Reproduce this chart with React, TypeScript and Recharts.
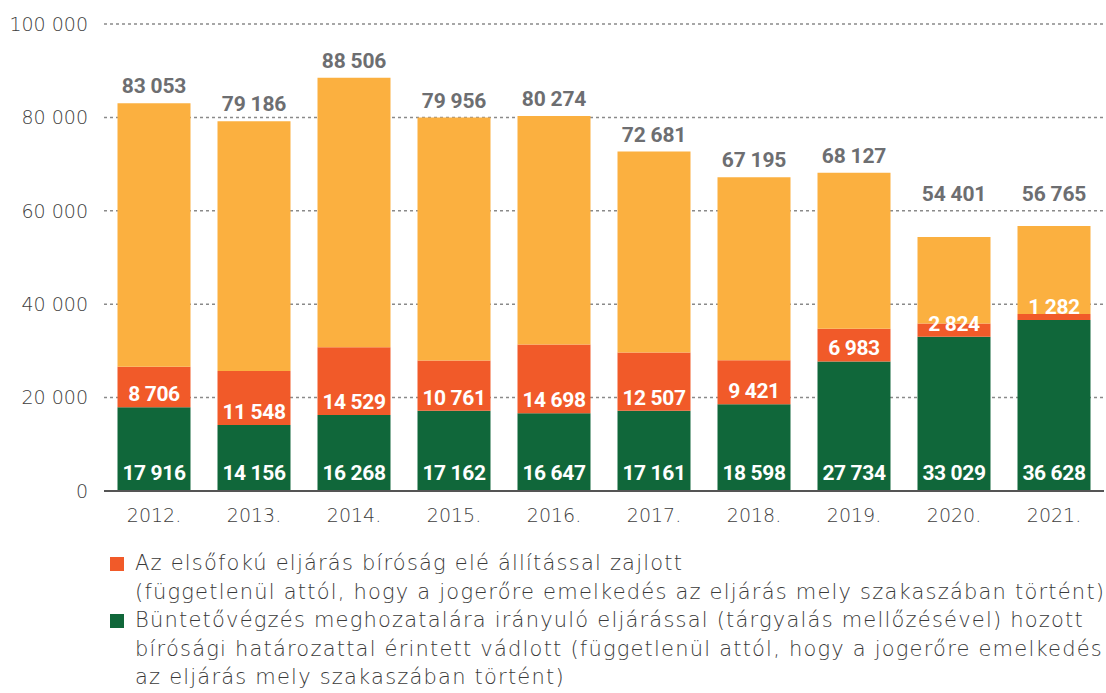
import { Bar, BarChart, CartesianGrid, LabelList, XAxis, YAxis } from 'recharts'

const years = ['2012.', '2013.', '2014.', '2015.', '2016.', '2017.', '2018.', '2019.', '2020.', '2021.']
const simplified = [17916, 14156, 16268, 17162, 16647, 17161, 18598, 27734, 33029, 36628]
const courtFirst = [8706, 11548, 14529, 10761, 14698, 12507, 9421, 6983, 2824, 1282]
const totals = [83053, 79186, 88506, 79956, 80274, 72681, 67195, 68127, 54401, 56765]
const yTicks = [0, 20000, 40000, 60000, 80000, 100000]

const GREEN = '#10673a'
const RED = '#f15a29'
const YELLOW = '#fbb040'
const GRAY_TEXT = '#6d6e71'
const NUM_FONT = 'Roboto, sans-serif'
const TEXT_FONT = '"DejaVu Sans", sans-serif'

const PLOT_TOP = 24
const PLOT_BOTTOM = 491

const chartData = years.map((year, i) => ({
  year,
  green: simplified[i],
  red: courtFirst[i],
  rest: totals[i] - simplified[i] - courtFirst[i],
  total: totals[i],
}))

function fmt(v: number) {
  return String(v).replace(/\B(?=(\d{3})+(?!\d))/g, ' ')
}

// label near the bottom of a segment, white bold
function innerLabel(offset: number) {
  return (props: any) => {
    const { x, y, width, height, value } = props
    return (
      <text
        x={x + width / 2}
        y={y + height - offset}
        textAnchor="middle"
        dominantBaseline="central"
        fill="#fff"
        fontFamily={NUM_FONT}
        fontWeight={700}
        fontSize={21}
        letterSpacing={-0.4}
      >
        {fmt(value)}
      </text>
    )
  }
}

// total above the bar; lifted over a gridline when it would sit on it
function totalLabel(props: any) {
  const { x, y, width, index } = props
  let ly = y - 17
  for (const t of yTicks) {
    const gy = PLOT_BOTTOM - ((PLOT_BOTTOM - PLOT_TOP) * t) / 100000
    if (Math.abs(ly - gy) < 12) ly = gy - 17
  }
  return (
    <text
      x={x + width / 2}
      y={ly}
      textAnchor="middle"
      dominantBaseline="central"
      fill={GRAY_TEXT}
      fontFamily={NUM_FONT}
      fontWeight={700}
      fontSize={21}
      letterSpacing={-0.2}
    >
      {fmt(totals[index])}
    </text>
  )
}

const legendRows = [
  { color: RED, lines: ['Az elsőfokú eljárás bíróság elé állítással zajlott', '(függetlenül attól, hogy a jogerőre emelkedés az eljárás mely szakaszában történt)'] },
  {
    color: GREEN,
    lines: [
      'Büntetővégzés meghozatalára irányuló eljárással (tárgyalás mellőzésével) hozott',
      'bírósági határozattal érintett vádlott (függetlenül attól, hogy a jogerőre emelkedés',
      'az eljárás mely szakaszában történt)',
    ],
  },
]

const tickStyle = { fill: '#3d3d3d', fontSize: 19, fontFamily: TEXT_FONT, fontWeight: 200 }

export default function App() {
  return (
    <div style={{ position: 'absolute', left: 0, top: 0, width: 1106, height: 693, background: '#fff' }}>
      <BarChart
        width={1106}
        height={535}
        data={chartData}
        margin={{ top: PLOT_TOP, right: 2, left: 0, bottom: 0 }}
        barCategoryGap="13.5%"
      >
        <CartesianGrid vertical={false} stroke="#8a8a8a" strokeDasharray="3 3" strokeWidth={1.5} />
        <YAxis
          width={104}
          domain={[0, 100000]}
          ticks={yTicks}
          tickFormatter={fmt}
          axisLine={false}
          tickLine={false}
          tickMargin={10}
          tick={tickStyle}
        />
        <XAxis
          dataKey="year"
          height={44}
          axisLine={{ stroke: '#555', strokeWidth: 2 }}
          tickLine={false}
          tickMargin={12}
          tick={tickStyle}
        />
        <Bar dataKey="green" stackId="a" fill={GREEN} isAnimationActive={false}>
          <LabelList dataKey="green" content={innerLabel(18)} />
        </Bar>
        <Bar dataKey="red" stackId="a" fill={RED} isAnimationActive={false}>
          <LabelList dataKey="red" content={innerLabel(13)} />
        </Bar>
        <Bar dataKey="rest" stackId="a" fill={YELLOW} isAnimationActive={false}>
          <LabelList dataKey="rest" content={totalLabel} />
        </Bar>
      </BarChart>
      <div
        style={{
          position: 'absolute',
          left: 110,
          top: 549,
          fontFamily: TEXT_FONT,
          fontWeight: 200,
          fontSize: 21,
          letterSpacing: 1.2,
          lineHeight: '28.5px',
          color: '#3a3a3a',
          whiteSpace: 'nowrap',
        }}
      >
        {legendRows.map((row) => (
          <div key={row.color} style={{ position: 'relative', paddingLeft: 25 }}>
            <span
              style={{
                position: 'absolute',
                left: 0,
                top: 8,
                width: 14,
                height: 14,
                background: row.color,
              }}
            />
            {row.lines.map((l) => (
              <div key={l}>{l}</div>
            ))}
          </div>
        ))}
      </div>
    </div>
  )
}
